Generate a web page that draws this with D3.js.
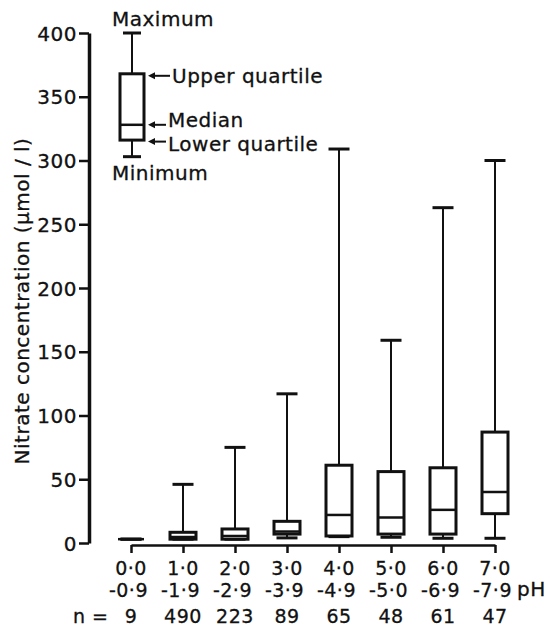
<!DOCTYPE html>
<html>
<head>
<meta charset="utf-8">
<script src="https://cdn.jsdelivr.net/npm/d3@7"></script>
<style>
  html, body { margin: 0; padding: 0; background: #fff; }
  svg { display: block; }
  text { font-family: "DejaVu Sans", sans-serif; fill: #111; stroke: #111; stroke-width: 0.3px; letter-spacing: 0.5px; }
</style>
</head>
<body>
<svg id="chart" width="549" height="629"></svg>
<script>
// ---- data ----
const phFrom   = ["0·0", "1·0", "2·0", "3·0", "4·0", "5·0", "6·0", "7·0"];
const phTo     = ["-0·9", "-1·9", "-2·9", "-3·9", "-4·9", "-5·0", "-6·9", "-7·9"];
const nCounts  = [9, 490, 223, 89, 65, 48, 61, 47];
const minimums = [3, 3, 3, 4, 5, 4.5, 3.7, 3.7];
const lowerQ   = [3, 3, 3, 7, 5.5, 7, 7, 23];
const medians  = [3, 4.7, 5.5, 9, 22, 20, 26, 40];
const upperQ   = [3, 8.4, 11, 17, 61, 56, 59, 87];
const maximums = [3, 46, 75, 117, 309, 159, 263, 300];
const yTicks   = [0, 50, 100, 150, 200, 250, 300, 350, 400];
// legend example box: min, lower quartile, median, upper quartile, max
const legendValues = [303, 316, 328, 368, 400];
const legendLabels = ["Minimum", "Lower quartile", "Median", "Upper quartile", "Maximum"];

// ---- setup ----
const svg = d3.select("#chart");
const FS = 20, FSX = 19;
const y = d3.scaleLinear().domain([0, 400]).range([543, 33]);
const x = d3.scalePoint().domain(phFrom).range([131, 495]);

const boxes = phFrom.map((c, i) => ({
  c, min: minimums[i], q1: lowerQ[i], med: medians[i], q3: upperQ[i], max: maximums[i]
}));

// ---- y axis ----
const yAxis = d3.axisLeft(y).tickValues(yTicks).tickSize(10).tickSizeOuter(0).tickPadding(2);
const gy = svg.append("g").attr("transform", "translate(89,0)").call(yAxis);
gy.select(".domain").attr("stroke", "#111").attr("stroke-width", 3.5);
gy.selectAll(".tick line").attr("stroke", "#111").attr("stroke-width", 2.5);
gy.selectAll(".tick text").attr("font-size", FS).attr("font-family", "DejaVu Sans")
  .attr("fill", "#111").attr("dy", "0.36em");

// y label
svg.append("text")
  .attr("transform", "translate(29,301) rotate(-90)")
  .attr("text-anchor", "middle")
  .attr("font-size", FS)
  .text("Nitrate concentration (µmol / l)");

// ---- x axis ----
const xAxis = d3.axisBottom(x).tickSize(8).tickSizeOuter(0).tickFormat("");
const gx = svg.append("g").attr("transform", `translate(0,${y(0) + 2})`).call(xAxis);
gx.select(".domain").attr("stroke", "#111").attr("stroke-width", 2.5);
gx.selectAll(".tick line").attr("stroke", "#111").attr("stroke-width", 2.5);

// x labels
svg.append("g").selectAll("text").data(phFrom).join("text")
  .attr("x", d => x(d)).attr("y", 575)
  .attr("text-anchor", "middle").attr("font-size", FSX).text(d => d);
svg.append("g").selectAll("text").data(phTo).join("text")
  .attr("x", (d, i) => x(phFrom[i]) + 17).attr("y", 597)
  .attr("text-anchor", "end").attr("font-size", FSX).text(d => d);
svg.append("text").attr("x", 517).attr("y", 596).attr("font-size", FS).text("pH");
svg.append("g").selectAll("text").data(nCounts).join("text")
  .attr("x", (d, i) => x(phFrom[i])).attr("y", 623)
  .attr("text-anchor", "middle").attr("font-size", FSX).text(d => d);
svg.append("text").attr("x", 73).attr("y", 623).attr("font-size", FSX).text("n =");

// ---- box plots ----
const BW = 26, CW = 21;
function drawBox(g, cx, d, bw, cw) {
  g.append("line").attr("x1", cx).attr("x2", cx).attr("y1", y(d.max)).attr("y2", y(d.q3))
    .attr("stroke", "#111").attr("stroke-width", 2);
  g.append("line").attr("x1", cx).attr("x2", cx).attr("y1", y(d.q1)).attr("y2", y(d.min))
    .attr("stroke", "#111").attr("stroke-width", 2);
  g.append("line").attr("x1", cx - cw / 2).attr("x2", cx + cw / 2).attr("y1", y(d.max)).attr("y2", y(d.max))
    .attr("stroke", "#111").attr("stroke-width", 3);
  g.append("line").attr("x1", cx - cw / 2).attr("x2", cx + cw / 2).attr("y1", y(d.min)).attr("y2", y(d.min))
    .attr("stroke", "#111").attr("stroke-width", 3);
  g.append("rect").attr("x", cx - bw / 2).attr("width", bw)
    .attr("y", y(d.q3)).attr("height", Math.max(0, y(d.q1) - y(d.q3)))
    .attr("fill", "#fff").attr("stroke", "#111").attr("stroke-width", 3);
  g.append("line").attr("x1", cx - bw / 2).attr("x2", cx + bw / 2).attr("y1", y(d.med)).attr("y2", y(d.med))
    .attr("stroke", "#111").attr("stroke-width", 2.5);
}
const gb = svg.append("g");
boxes.forEach(d => drawBox(gb.append("g"), x(d.c), d, BW, CW));

// ---- legend example ----
const lg = svg.append("g");
const L = { min: legendValues[0], q1: legendValues[1], med: legendValues[2], q3: legendValues[3], max: legendValues[4] };
const lcx = 132;
drawBox(lg, lcx, L, 24, 18);
// labels
lg.append("text").attr("x", 112).attr("y", y(L.max) - 7).attr("font-size", FS).text(legendLabels[4]);
lg.append("text").attr("x", 112).attr("y", y(L.min) + 23).attr("font-size", FS).text(legendLabels[0]);
const arrowItems = [
  { v: L.q3, label: legendLabels[3], dy: 2, tdy: 7, tx: 172 },
  { v: L.med, label: legendLabels[2], dy: 0, tdy: 2, tx: 168 },
  { v: L.q1, label: legendLabels[1], dy: 1.5, tdy: 9.5, tx: 168 }
];
arrowItems.forEach(a => {
  const yy = y(a.v) + a.dy;
  const ax = lcx + 16;
  lg.append("line").attr("x1", ax + 4).attr("x2", a.tx - 2).attr("y1", yy).attr("y2", yy)
    .attr("stroke", "#111").attr("stroke-width", 2);
  lg.append("path").attr("d", `M${ax},${yy} L${ax + 7},${yy - 3.5} L${ax + 7},${yy + 3.5} Z`).attr("fill", "#111");
  lg.append("text").attr("x", a.tx).attr("y", yy + a.tdy).attr("font-size", FS).text(a.label);
});
</script>
</body>
</html>
